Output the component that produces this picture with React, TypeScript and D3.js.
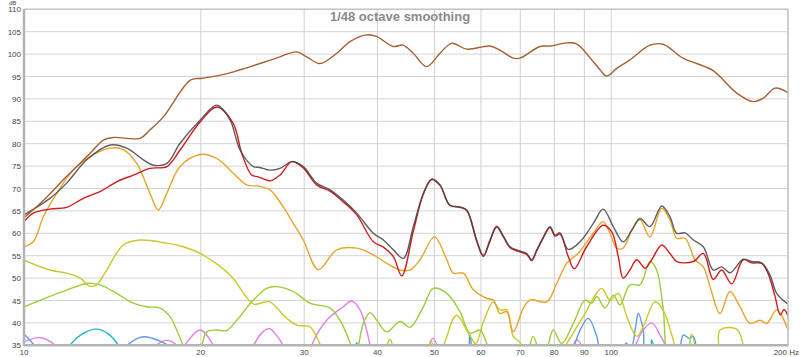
import React from "react";
import * as d3 from "d3";

type P = [number, number];

const X_TICKS = [10, 20, 30, 40, 50, 60, 70, 80, 90, 100, 200];
const X_LABELS = ["10", "20", "30", "40", "50", "60", "70", "80", "90", "100", "200 Hz"];
const Y_TICKS = [35, 40, 45, 50, 55, 60, 65, 70, 75, 80, 85, 90, 95, 100, 105, 110];
const TITLE = "1/48 octave smoothing";

const brown: P[] = [
  [10, 63.5], [10.9, 67.9], [11.8, 72.6], [12.95, 77.8], [13.65, 80.8], [14.2, 81.4], [15.76, 81.2],
  [16.4, 83.1], [17.3, 86.1], [19.2, 94.2], [20.1, 94.6], [22.1, 95.6], [24.3, 97.2], [26.9, 99.1],
  [29.1, 100.5], [30.3, 99.4], [31.9, 97.9], [34.1, 100.2], [35.9, 102.8], [38.3, 104.3], [39.9, 103.9],
  [42.5, 101.7], [44.2, 102], [46, 100.2], [48.5, 97.2], [51.1, 100.2], [53.5, 102.4], [56.75, 101.1],
  [62.15, 101.8], [64.6, 100.9], [68.1, 99.1], [69.9, 99.1], [75.6, 101.7], [78.7, 101.8], [84, 102.5],
  [87.3, 102.3], [93.2, 98.3], [95.7, 96.5], [98.2, 95.1], [102.2, 96.8], [107.6, 98.7], [116.4, 102],
  [122.5, 102.2], [132.5, 99.1], [139.8, 97.9], [149.1, 96.3], [163.6, 91.3], [174.4, 89.4], [181.3, 90.1],
  [190.1, 92.4], [200, 91.4],
];

const total: P[] = [
  [10, 64.1], [11.07, 67.8], [11.82, 71.2], [12.79, 76.4], [14.02, 79.7], [14.96, 79], [15.97, 76.4],
  [16.61, 75.2], [17.51, 75.6], [18.44, 80.1], [19.96, 85.3], [21.3, 88.6], [22.43, 85.3], [23.33, 78.6],
  [24.58, 74.9], [25.22, 74.7], [26.24, 74.1], [27.29, 74.5], [28.57, 76], [29.9, 74.9], [31.5, 71.2],
  [33.2, 69.7], [34.97, 67.4], [36.87, 64.5], [39.35, 60], [40.93, 58.5], [42.56, 56.3], [44.26, 54.4],
  [46.03, 61.5], [47.86, 68.9], [49.47, 72.1], [51.1, 70.8], [53.1, 66.3], [55.26, 65.9], [56.75, 65.2],
  [59.01, 58.5], [60.56, 55.1], [62.15, 58.5], [63.82, 61.6], [65.5, 59.4], [67.24, 57], [69.03, 56.3],
  [71.79, 55.5], [73.2, 54.1], [74.67, 56.3], [76.15, 58.5], [78.66, 61.5], [80.2, 59.6], [81.8, 60.1],
  [84.5, 56.4], [88.5, 58.1], [93.22, 62.2], [96.9, 65.4], [100.8, 61.5], [104.8, 58.1], [108.4, 60.7],
  [111.9, 63.3], [116.4, 61.5], [121.9, 66.1], [125.9, 63.7], [129.3, 60], [133.6, 60.1], [138, 58.5],
  [143.5, 57], [149.2, 51.8], [154.2, 52.5], [159.3, 51.2], [167.8, 54.2], [173.4, 53.7], [180.4, 53.4],
  [186.4, 50.7], [191.3, 46.6], [200, 44.2],
];

const red: P[] = [
  [10, 62.6], [10.37, 64.5], [11.07, 65.4], [11.82, 65.8], [12.62, 67.8], [13.47, 69.3], [14.38, 71.5],
  [15.36, 73], [16.39, 74.5], [17.51, 74.9], [18.44, 78.6], [19.96, 84.9], [21.3, 88.2], [22.72, 84.5],
  [23.49, 77.8], [24.42, 73], [25.06, 72.6], [25.9, 71.9], [26.24, 71.7], [27.29, 73], [28.57, 76],
  [29.9, 74.6], [31.5, 70.8], [33.2, 69.4], [34.97, 67], [36.87, 64.1], [39.35, 58.1], [40.93, 56.9],
  [42.56, 54.8], [43.98, 50.5], [46.03, 60.5], [47.86, 68.7], [49.47, 72], [51.1, 70.7], [53.1, 66.2],
  [55.26, 65.8], [56.75, 65.1], [59.01, 58.2], [60.56, 54.8], [62.15, 58.2], [63.82, 61.4], [65.5, 59.2],
  [67.24, 56.8], [69.03, 56.1], [71.79, 55.3], [73.2, 53.9], [74.67, 56.1], [76.15, 58.3], [78.66, 61.3],
  [80.2, 59.4], [81.8, 59.8], [84.5, 54.8], [86.5, 52.1], [90.8, 57], [96.9, 61.8], [100.2, 60.3],
  [102.8, 54.8], [104.8, 50], [107.6, 51.8], [110.5, 54.1], [114.2, 52.2], [117.2, 54.1], [121.9, 57.4],
  [125.9, 55.5], [129.3, 53.7], [138, 53.7], [143.5, 55.5], [149.2, 49.7], [154.2, 51.8], [160.4, 48.7],
  [167.8, 54.1], [173.4, 53.4], [180.4, 53.3], [185, 51], [190, 46], [194, 41.8], [197, 43], [200, 41.5],
];

const orange: P[] = [
  [10, 57], [10.37, 58.1], [10.79, 63.7], [11.37, 68.9], [12.13, 74.1], [12.95, 77.1], [14.02, 79],
  [14.76, 78.7], [15.56, 75.6], [16.39, 68.9], [16.93, 65.2], [17.5, 68.9], [18.44, 74.9], [19.96, 77.6],
  [21.29, 76.7], [22.72, 73.4], [23.95, 70.8], [25.22, 70.5], [26.24, 69.7], [27.64, 65.9], [28.75, 62.2],
  [29.9, 58.5], [31.71, 51.9], [34.08, 56.3], [36.87, 56.7], [39.35, 55.2], [41.48, 53.3], [43.68, 51.8],
  [45.43, 51.8], [47.25, 54.1], [50, 59.2], [52.47, 54.1], [53.84, 51.1], [55.98, 51.1], [58.23, 47.4],
  [61.37, 45.5], [62.98, 45.1], [64.64, 42.1], [66.38, 42.5], [68.12, 38], [70.85, 43.3], [72.7, 45.1],
  [77.64, 44.7], [80.75, 48.8], [83.98, 53.3], [87.34, 55.2], [88.5, 56], [93.22, 60], [96.9, 62.6],
  [99.5, 60], [102.2, 56.7], [104.8, 56.7], [108.4, 60.7], [111.9, 63], [116.4, 59.2], [121.9, 65.6],
  [125.9, 63], [129.3, 58.9], [133.6, 58.9], [138.9, 54.1], [143.5, 52.5], [147.3, 48.1], [153.2, 42.1],
  [159.3, 47], [165.7, 43.6], [172.3, 39.9], [179.2, 40.6], [184, 39.9], [191.3, 42.9], [200, 38.5],
];

const yellow: P[] = [
  [10, 54], [11.07, 51.8], [11.82, 51.1], [12.46, 50], [12.95, 48.2], [13.3, 48.5], [13.83, 51.8],
  [14.76, 57.4], [15.76, 58.5], [17.5, 57.8], [18.67, 57], [19.96, 55.5], [22.43, 50.7], [24.6, 44.2],
  [25.6, 44.6], [26.24, 44.7], [28.03, 41], [29.14, 39.5], [30.69, 39.1], [31.71, 36.1], [33, 32],
  [40.5, 32], [42, 36.3], [43.3, 32], [48.3, 32], [49.3, 36], [50.5, 32], [52, 35.5], [54.5, 41.7],
  [57.5, 37], [58.8, 35.4], [60.5, 40], [62.98, 44.7], [64.6, 42.9], [66.4, 42.9], [68.1, 37], [70, 35.6],
  [72, 32], [81, 32], [84, 35.4], [89.6, 41.4], [96.3, 47.7], [99.5, 45.1], [102.8, 46.6], [106.3, 41.4],
  [110.5, 37], [113.4, 39.2], [118.7, 44.7], [122.5, 42.9], [127.6, 36.1], [130, 32], [151, 32],
  [153.2, 38.4], [163.6, 38.6], [167.8, 35], [169, 32],
];

const green: P[] = [
  [10, 43.6], [11.07, 45.9], [11.82, 47.3], [12.79, 48.8], [13.47, 48.5], [14.38, 46.6], [15.36, 44.4],
  [16.18, 43.6], [17.05, 43.3], [17.73, 41.4], [18.2, 38.4], [18.67, 35], [19.4, 31], [20.07, 35],
  [20.47, 38], [21.29, 38.4], [22.14, 38.3], [23.03, 40.6], [24.58, 45.1], [25.9, 47.7], [26.94, 48.1],
  [28.75, 47], [30.69, 44.4], [33.2, 43.3], [34.52, 40.6], [35.92, 35.5], [36.6, 32], [37.84, 39.9],
  [38.84, 42.3], [39.87, 40.6], [41.48, 38], [43.68, 40.3], [45.43, 39], [47.86, 43.6], [49.77, 47.7],
  [52.47, 46.6], [55.26, 42.5], [57.48, 37.7], [59.78, 38.4], [61.37, 35.4], [62.5, 32], [71, 32],
  [73.66, 37], [76, 32], [78, 35], [79.7, 38.4], [82.35, 35.4], [86.2, 39.9], [90.2, 45.1], [92.6, 44.4],
  [94.5, 45.9], [97.6, 43.3], [100.8, 46.2], [103.5, 44], [107.6, 48.5], [111.9, 48.5], [116.4, 53.7],
  [119.5, 51.8], [122.5, 43.6], [126, 32], [134, 32], [137, 37.5], [140, 32],
];

const blue: P[] = [
  [10, 37.5], [10.4, 35], [10.7, 32], [14.5, 32], [15.0, 35], [15.97, 36.9], [17.0, 36], [17.8, 34.5],
  [18.3, 32], [56.2, 32], [57.48, 37.3], [58.8, 32], [84, 32], [86.5, 35], [88.5, 38.4], [91.4, 41],
  [94.5, 37], [96.5, 32], [104, 32], [106, 35.5], [108, 34], [110, 39], [111.2, 42.1], [113.4, 38.4],
  [115, 32], [129, 32], [132.7, 37.3], [136, 36.5], [138, 37], [140, 32],
];

const cyan: P[] = [
  [11.7, 32], [11.98, 35], [12.6, 37.6], [13.3, 38.6], [13.9, 37.6], [14.47, 35], [14.8, 32],
  [36.2, 32], [36.87, 35.6], [37.5, 32], [115.5, 32], [117.2, 36.2], [119, 32],
];

const violet: P[] = [
  [10, 35.8], [10.65, 36.7], [11.29, 35], [11.6, 32], [16.3, 32], [16.8, 35], [17.5, 36.1], [18.2, 35],
  [18.5, 33], [18.8, 35], [19.96, 38.4], [21.0, 35], [21.4, 32], [24, 32], [24.6, 35], [25.5, 38],
  [26.2, 38.7], [27, 37], [27.6, 35], [28, 32], [30.5, 32], [30.9, 35], [32.76, 40.6], [34.97, 43.6],
  [36.14, 44.9], [37.34, 42.9], [38.3, 38.5], [38.84, 35], [39.2, 32], [48.5, 32], [49.0, 35],
  [49.7, 36.6], [50.5, 35], [51, 32], [85, 32], [86.2, 35], [87.3, 36.2], [89, 35], [90, 32],
  [108.5, 32], [110, 35], [113.4, 38.4], [117.2, 40], [121.1, 37.3], [123.5, 35], [124.5, 32],
];

const SERIES: { data: P[]; color: string; opacity?: number }[] = [
  { data: violet, color: "#e27fe6" },
  { data: cyan, color: "#1fb5c9" },
  { data: blue, color: "#5f9be0" },
  { data: green, color: "#9bcd3a" },
  { data: yellow, color: "#c9c92a" },
  { data: orange, color: "#e8a42a" },
  { data: red, color: "#cc1e1e" },
  { data: total, color: "#444444", opacity: 0.85 },
  { data: brown, color: "#a65f30" },
];

const FONT = "'Liberation Sans', Arial, sans-serif";

export default function App() {
  const left = 24, right = 788, top = 9.3, bottom = 345.3;
  const x = d3.scaleLog().domain([10, 200]).range([left, right]);
  const y = d3.scaleLinear().domain([35, 110]).range([bottom, top]);
  const line = d3
    .line<P>()
    .x((d) => x(d[0]))
    .y((d) => y(d[1]))
    .curve(d3.curveCatmullRom.alpha(0.5));

  return (
    <div style={{ position: "absolute", left: 0, top: 0 }}>
      <svg width={800} height={357} style={{ display: "block", background: "#fff" }}>
        <defs>
          <clipPath id="plot">
            <rect x={left} y={top} width={right - left} height={bottom - top} />
          </clipPath>
        </defs>
        <rect x={left} y={top} width={right - left} height={bottom - top} fill="#fff" />
        {Y_TICKS.map((t) => (
          <line key={"h" + t} x1={left} x2={right} y1={y(t)} y2={y(t)} stroke="#d4d4d4" strokeWidth={1} />
        ))}
        {X_TICKS.map((t) => (
          <line key={"v" + t} x1={x(t)} x2={x(t)} y1={top} y2={bottom} stroke="#d0d0d0" strokeWidth={1} />
        ))}
        <text x={400} y={21} textAnchor="middle" fontFamily={FONT} fontWeight="bold" fontSize={13} fill="#8a8a8a">
          {TITLE}
        </text>
        <g clipPath="url(#plot)">
          {SERIES.map((s, i) => (
            <path
              key={i}
              d={line(s.data) || ""}
              fill="none"
              stroke={s.color}
              strokeWidth={1.4}
              strokeOpacity={s.opacity ?? 1}
            />
          ))}
        </g>
        <rect x={left} y={top} width={right - left} height={bottom - top} fill="none" stroke="#c4c4c4" strokeWidth={1.5} />
        <line x1={left} x2={left} y1={top} y2={bottom + 1} stroke="#b4b4b4" strokeWidth={2.5} />
        <line x1={left} x2={right} y1={bottom} y2={bottom} stroke="#b4b4b4" strokeWidth={2.5} />
        {Y_TICKS.map((t) => (
          <text key={"yl" + t} x={21} y={y(t) + 3} textAnchor="end" fontFamily={FONT} fontSize={8} fill="#444">
            {t}
          </text>
        ))}
        <text x={9} y={4.5} fontFamily={FONT} fontSize={6} fill="#444">dB</text>
        {X_TICKS.map((t, i) => (
          <text
            key={"xl" + t}
            x={i === X_TICKS.length - 1 ? 799 : x(t)}
            y={355}
            textAnchor={i === X_TICKS.length - 1 ? "end" : "middle"}
            fontFamily={FONT}
            fontSize={8}
            fill="#444"
          >
            {X_LABELS[i]}
          </text>
        ))}
      </svg>
    </div>
  );
}
